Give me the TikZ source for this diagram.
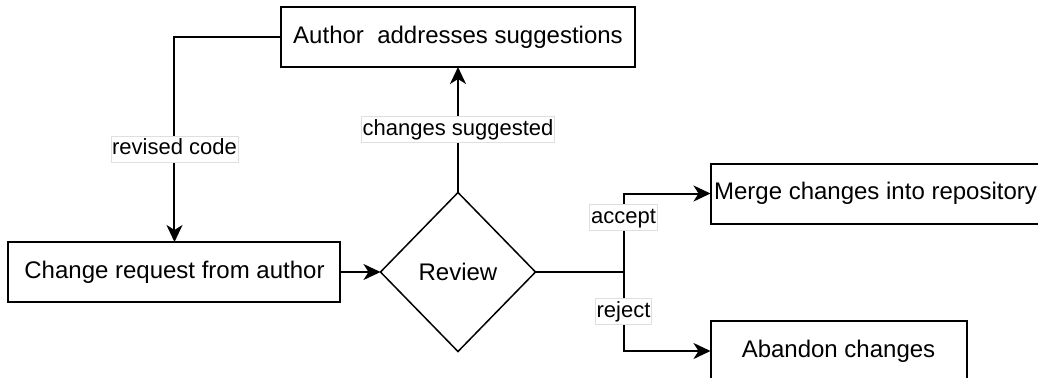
\documentclass[tikz,border=0pt]{standalone}
\usepackage{fontspec}
\setmainfont{Liberation Sans}
\usetikzlibrary{shapes.geometric,arrows.meta,positioning,calc}

\begin{document}
\begin{tikzpicture}[
 x=1pt, y=1pt,
 node distance=20pt,
 box/.style={rectangle, draw, line width=1pt, minimum width=166pt, minimum height=30pt, align=center, outer sep=0pt, font=\fontsize{12}{14}\selectfont},
 decision/.style={diamond, draw, line width=0.75pt, minimum width=77.5pt, minimum height=79.5pt, inner sep=0pt, outer sep=0pt, font=\fontsize{12}{14}\selectfont},
 arrow/.style={->, >={Stealth[length=8.5pt,width=8pt,inset=2.5pt]}, line width=1pt},
 line/.style={line width=1pt},
 edgelabel/.style={fill=white, draw=gray!25, line width=0.4pt, inner xsep=0.6pt, inner ysep=1pt, text height=8.5pt, text depth=2.5pt, font=\fontsize{11}{13}\selectfont}
]

\useasboundingbox (-229,-52.5) rectangle (290,136);

% Centre: review
\node[decision] (review) at (0,0) {Review};

% Left and top
\node[box, left=20pt of review] (request) {Change request from author};
\node[box, above=62.75pt of review, minimum width=177pt] (author) {Author\ \ addresses suggestions};

% Right: outcomes
\coordinate (split) at ($(review.east)+(44pt,0)$);
\node[box, anchor=west, minimum width=0pt, inner xsep=1.8pt] (merge) at ($(split)+(43.5pt,39.25pt)$) {Merge changes into repository\hspace{12pt}};
\node[box, anchor=west, minimum width=128pt] (abandon) at ($(split)+(43.5pt,-39.5pt)$) {Abandon changes};

% Arrows
\draw[arrow] (request) -- (review);
\draw[arrow] (review.north) -- node[edgelabel] {changes suggested} (author.south);
\draw[arrow] (author.west) -| node[pos=0.773, edgelabel] {revised code} (request.north);
\draw[line] (review.east) -- (split);
\draw[arrow] (split) |- node[pos=0.347, edgelabel] {accept} (merge.west);
\draw[arrow] (split) |- node[pos=0.25, edgelabel] {reject} (abandon.west);

\end{tikzpicture}
\end{document}
